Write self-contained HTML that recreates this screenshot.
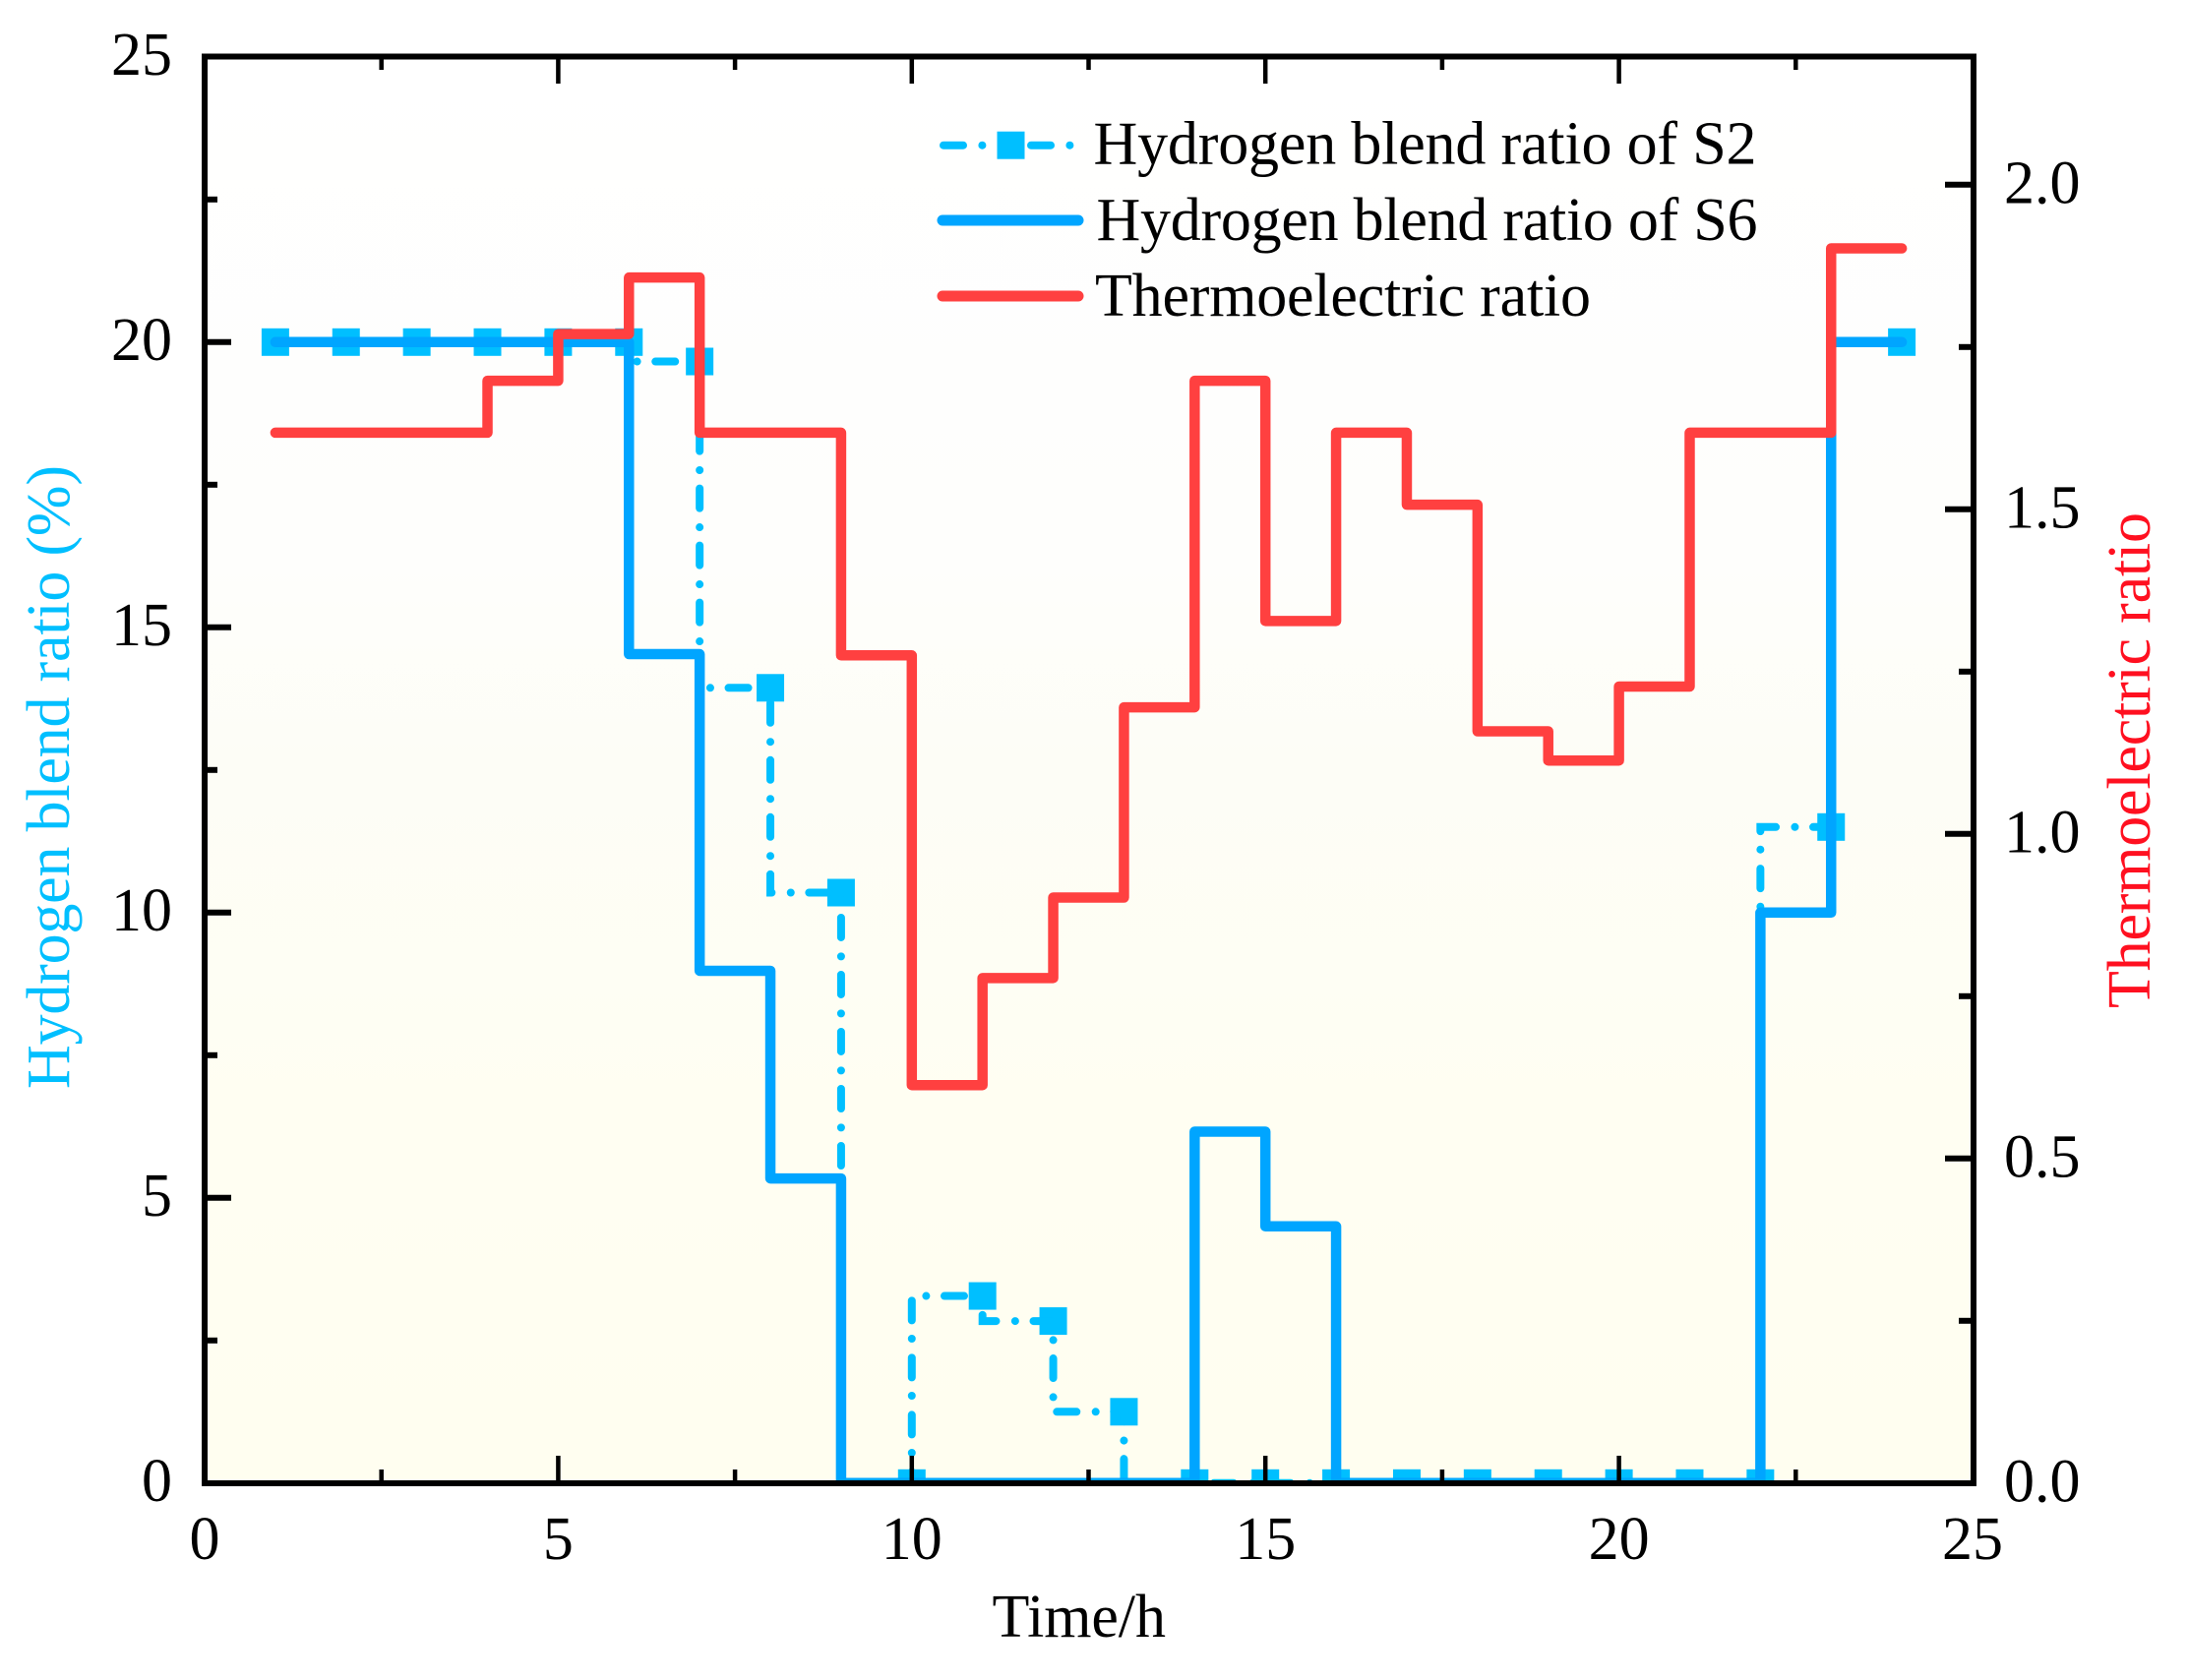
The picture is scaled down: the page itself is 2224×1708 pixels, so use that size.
<!DOCTYPE html>
<html lang="en">
<head>
<meta charset="utf-8">
<title>Hydrogen blend ratio and thermoelectric ratio</title>
<style>
html,body{margin:0;padding:0;background:#fff;}
svg{display:block;}
text{font-family:"Liberation Serif","Times New Roman",serif;font-size:62px;fill:#000;}
</style>
</head>
<body>
<svg id="chart" xmlns="http://www.w3.org/2000/svg" width="2224" height="1708" viewBox="0 0 2224 1708">
  <defs>
    <linearGradient id="plot-bg" x1="0" y1="0" x2="0" y2="1">
      <stop offset="0" stop-color="#ffffff"/>
      <stop offset="0.35" stop-color="#fefefc"/>
      <stop offset="0.5" stop-color="#fdfdf6"/>
      <stop offset="0.75" stop-color="#fffef2"/>
      <stop offset="1" stop-color="#fffef0"/>
    </linearGradient>
    <clipPath id="plot-clip"><rect x="208" y="57.5" width="1798" height="1450.5"/></clipPath>
  </defs>
  <rect x="208" y="57.5" width="1798" height="1450.5" fill="url(#plot-bg)"/>
  <g id="series" clip-path="url(#plot-clip)"></g>
  <g id="axes"></g>
  <g>
    <g>
      <line x1="959" y1="147.7" x2="1000" y2="147.7" stroke="#00BFFF" stroke-width="8" stroke-linecap="round" stroke-dasharray="20 19.4 0.01 18.6"/>
      <line x1="1048" y1="147.7" x2="1088" y2="147.7" stroke="#00BFFF" stroke-width="8" stroke-linecap="round" stroke-dasharray="20 19.4 0.01 18.6"/>
      <rect x="1013.5" y="133.7" width="28" height="28" fill="#00BFFF"/>
      <text x="1111.5" y="166.7" textLength="674" lengthAdjust="spacing">Hydrogen blend ratio of S2</text>
    </g>
    <g>
      <line x1="958" y1="224" x2="1096" y2="224" stroke="#00A5FF" stroke-width="11" stroke-linecap="round"/>
      <text x="1114.5" y="244" textLength="672" lengthAdjust="spacing">Hydrogen blend ratio of S6</text>
    </g>
    <g>
      <line x1="958" y1="301" x2="1096" y2="301" stroke="#FF4040" stroke-width="11" stroke-linecap="round"/>
      <text x="1113" y="321" textLength="504" lengthAdjust="spacing">Thermoelectric ratio</text>
    </g>
  </g>
  <text x="1096.7" y="1664" text-anchor="middle" textLength="176.5" lengthAdjust="spacing">Time/h</text>
  <text transform="translate(70 790) rotate(-90)" text-anchor="middle" textLength="634" lengthAdjust="spacing" style="fill:#00BFFF">Hydrogen blend ratio (%)</text>
  <text transform="translate(2185 773) rotate(-90)" text-anchor="middle" textLength="504" lengthAdjust="spacing" style="fill:#FF1020">Thermoelectric ratio</text>
</svg>
<script>
const hours = [1,2,3,4,5,6,7,8,9,10,11,12,13,14,15,16,17,18,19,20,21,22,23,24];
const blendS2 = [20,20,20,20,20,20,19.66,13.94,10.35,0,3.28,2.84,1.25,0,0,0,0,0,0,0,0,0,11.5,20];
const blendS6 = [20,20,20,20,20,20,14.53,8.98,5.34,0,0,0,0,0,6.16,4.5,0,0,0,0,0,0,10,20];
const thermoRatio = [1.618,1.618,1.618,1.618,1.698,1.77,1.857,1.618,1.618,1.275,0.613,0.778,0.902,1.195,1.698,1.328,1.618,1.507,1.158,1.113,1.227,1.618,1.618,1.902];
const xTickLabels = [0,5,10,15,20,25];
const xMinorTicks = [2.5,7.5,12.5,17.5,22.5];
const leftTickLabels = [0,5,10,15,20,25];
const leftMinorTicks = [2.5,7.5,12.5,17.5,22.5];
const rightTickLabels = ["0.0","0.5","1.0","1.5","2.0"];
const rightMinorTicks = [0.25,0.75,1.25,1.75];

const NS = 'http://www.w3.org/2000/svg';
const xScale = v => 208 + 71.88 * v;
const yLeft = v => 1507.8 - 58 * v;
const yRight = v => 1507.8 - 660 * v;
const seriesLayer = document.getElementById('series');
const axesLayer = document.getElementById('axes');

function make(tag, attrs, parent) {
  const el = document.createElementNS(NS, tag);
  for (const k in attrs) el.setAttribute(k, attrs[k]);
  parent.appendChild(el);
  return el;
}
function stepPath(xs, ys, yFn) {
  let d = 'M' + xScale(xs[0]) + ' ' + yFn(ys[0]);
  for (let i = 1; i < xs.length; i++) {
    d += 'L' + xScale(xs[i - 1]) + ' ' + yFn(ys[i]);
    d += 'L' + xScale(xs[i]) + ' ' + yFn(ys[i]);
  }
  return d;
}

hours.forEach((h, i) => {
  const m = make('rect', {x: xScale(h) - 14, y: yLeft(blendS2[i]) - 14, width: 28, height: 28, fill: '#00BFFF'}, seriesLayer);
  
  
});
const s2Line = make('path', {d: stepPath(hours, blendS2, yLeft), fill: 'none', stroke: '#00BFFF', 'stroke-width': 8, 'stroke-linecap': 'round', 'stroke-dasharray': '20 19.4 0.01 18.6'}, seriesLayer);


const s6Line = make('path', {d: stepPath(hours, blendS6, yLeft), fill: 'none', stroke: '#00A5FF', 'stroke-width': 10.5, 'stroke-linecap': 'round', 'stroke-linejoin': 'round'}, seriesLayer);


const thermoLine = make('path', {d: stepPath(hours, thermoRatio, yRight), fill: 'none', stroke: '#FF4040', 'stroke-width': 10.5, 'stroke-linecap': 'round', 'stroke-linejoin': 'round'}, seriesLayer);



const frame = make('rect', {x: 208, y: 57.5, width: 1798, height: 1450.5, fill: 'none', stroke: '#000', 'stroke-width': 6}, axesLayer);



function tick(x1, y1, x2, y2, w, name) {
  const t = make('line', {x1, y1, x2, y2, stroke: '#000', 'stroke-width': w}, axesLayer);
  
  
}
function label(x, y, str, anchor, name) {
  const t = make('text', {x, y, 'text-anchor': anchor}, axesLayer);
  t.textContent = str;
  
  
}

xTickLabels.forEach(v => {
  const x = xScale(v);
  if (v > 0 && v < 25) {
    tick(x, 1508, x, 1480, 4.5, 'x-tick-bottom-' + v);
    tick(x, 57.5, x, 85, 4.5, 'x-tick-top-' + v);
  }
  label(x, 1585, String(v), 'middle', 'x-tick-label-' + v);
});
xMinorTicks.forEach(v => {
  const x = xScale(v);
  tick(x, 1508, x, 1494, 4.5, 'x-minor-tick-bottom-' + v);
  tick(x, 57.5, x, 71, 4.5, 'x-minor-tick-top-' + v);
});
leftTickLabels.forEach(v => {
  const y = yLeft(v);
  if (v > 0 && v < 25) tick(208, y, 235, y, 6, 'left-tick-' + v);
  label(175, y + 18, String(v), 'end', 'left-tick-label-' + v);
});
leftMinorTicks.forEach(v => {
  const y = yLeft(v);
  tick(208, y, 221, y, 6, 'left-minor-tick-' + v);
});
rightTickLabels.forEach(s => {
  const v = parseFloat(s);
  const y = yRight(v);
  if (v > 0) tick(2006, y, 1977, y, 6, 'right-tick-' + s);
  label(2037, y + 18.8, s, 'start', 'right-tick-label-' + s);
});
rightMinorTicks.forEach(v => {
  const y = yRight(v);
  tick(2006, y, 1991, y, 6, 'right-minor-tick-' + v);
});
</script>
</body>
</html>
